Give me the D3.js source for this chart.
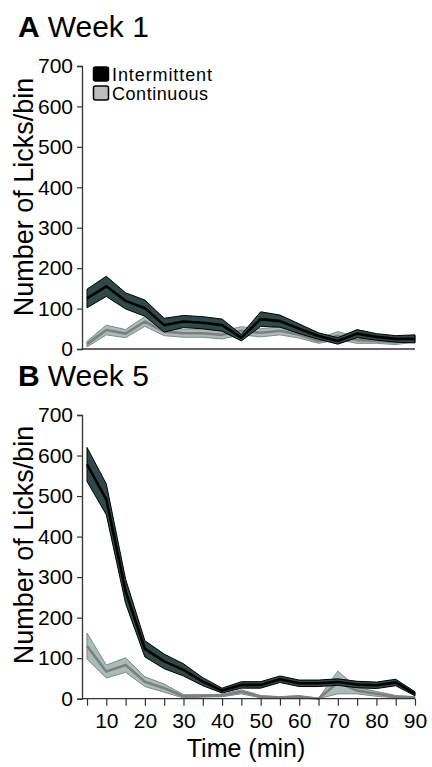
<!DOCTYPE html>
<html>
<head>
<meta charset="utf-8">
<script src="https://cdn.jsdelivr.net/npm/d3@7"></script>
<style>
  body { margin: 0; background: #fff; }
  text { font-family: 'Liberation Sans', Arial, sans-serif; fill: #000; }
</style>
</head>
<body>
<svg id="chart" width="432" height="767"></svg>
<script>
// time bins (min)
const times = [5, 10, 15, 20, 25, 30, 35, 40, 45, 50, 55, 60, 65, 70, 75, 80, 85, 90]
const yTicks = [0, 100, 200, 300, 400, 500, 600, 700]
const xTickLabels = [10, 20, 30, 40, 50, 60, 70, 80, 90]

// week 1, mean and sem
const w1IntMean = [125, 155, 119, 101, 59, 68, 65, 59, 28, 74, 69, 50, 32, 20, 38, 30, 25, 25]
const w1IntSem  = [23, 25, 20, 20, 17, 15, 15, 15, 8, 18, 15, 12, 8, 8, 10, 8, 8, 10]
const w1ConMean = [12, 47, 38, 68, 43, 39, 39, 35, 45, 40, 45, 35, 20, 33, 22, 20, 17, 25]
const w1ConSem  = [7, 12, 10, 12, 10, 10, 10, 10, 10, 10, 10, 8, 6, 10, 8, 6, 6, 8]

// week 5, mean and sem
const w5IntMean = [578, 492, 265, 123, 92, 71, 42, 20, 34, 34, 48, 38, 38, 41, 35, 33, 40, 12]
const w5IntSem  = [42, 38, 30, 20, 18, 15, 10, 6, 8, 8, 8, 8, 8, 8, 8, 8, 8, 5]
const w5ConMean = [130, 67, 83, 42, 26, 6, 7, 8, 17, 5, 3, 5, 0, 40, 20, 12, 5, 3]
const w5ConSem  = [32, 16, 18, 12, 10, 4, 3, 3, 5, 3, 2, 3, 1, 28, 8, 6, 3, 2]

const svg = d3.select("#chart")

const x = d3.scaleLinear().domain([3.7, 90]).range([82, 415])

const intStyle = { fill: "#2f4947", edge: "#000", line: "#000" }
const conStyle = { fill: "#a9bcb8", edge: "#7d8a88", line: "#7f7f7f" }

function drawPanel(letter, title, top, bottom, series, showTicks, labelY) {
    const y = d3.scaleLinear().domain([0, 700]).range([bottom, top])
    const g = svg.append("g")

    series.forEach(s => {
        const rows = times.map((t, i) => ({ t: t, m: s.mean[i], lo: Math.max(0, s.mean[i] - s.sem[i]), hi: s.mean[i] + s.sem[i] }))
        const area = d3.area().x(d => x(d.t)).y0(d => y(d.lo)).y1(d => y(d.hi))
        const line = d3.line().x(d => x(d.t)).y(d => y(d.m))
        g.append("path").attr("d", area(rows))
            .attr("fill", s.style.fill).attr("stroke", s.style.edge).attr("stroke-width", 1)
            .attr("stroke-linejoin", "round")
        g.append("path").attr("d", line(rows))
            .attr("fill", "none").attr("stroke", s.style.line).attr("stroke-width", 2.6)
            .attr("stroke-linejoin", "round")
    })

    // y axis
    const ya = g.append("g").attr("transform", "translate(82,0)")
        .call(d3.axisLeft(y).tickValues(yTicks).tickSize(5).tickPadding(4))
    ya.select(".domain").attr("stroke", "#333").attr("stroke-width", 1.3)
    ya.selectAll(".tick line").attr("stroke", "#333").attr("stroke-width", 1.2)
    ya.selectAll(".tick text").attr("font-size", 21).attr("font-family", "'Liberation Sans', Arial, sans-serif")

    // x axis
    if (showTicks) {
        const xa = g.append("g").attr("transform", "translate(0," + bottom + ")")
            .call(d3.axisBottom(x).tickValues(times).tickSize(7).tickPadding(7)
                .tickFormat(d => xTickLabels.includes(d) ? d : ""))
            .call(a => a.select(".domain").attr("d", "M82,0H415"))
        xa.select(".domain").attr("stroke", "#333").attr("stroke-width", 1.3)
        xa.selectAll(".tick line").attr("stroke", "#333").attr("stroke-width", 1.2)
        xa.selectAll(".tick text").attr("font-size", 21).attr("font-family", "'Liberation Sans', Arial, sans-serif")
    } else {
        g.append("line").attr("x1", 82).attr("x2", 415).attr("y1", bottom).attr("y2", bottom)
            .attr("stroke", "#333").attr("stroke-width", 1.3)
    }

    g.append("text").attr("transform", "translate(33," + labelY + ") rotate(-90)")
        .attr("text-anchor", "middle").attr("font-size", 27)
        .text("Number of Licks/bin")

    const t = g.append("text").attr("x", 18).attr("y", top - 29).attr("font-size", 30)
    t.append("tspan").attr("font-weight", "bold").text(letter)
    t.append("tspan").attr("dx", 8).text(title)
}

drawPanel("A", "Week 1", 66, 349, [
    { mean: w1ConMean, sem: w1ConSem, style: conStyle },
    { mean: w1IntMean, sem: w1IntSem, style: intStyle }
], false, 197)

drawPanel("B", "Week 5", 415, 698.7, [
    { mean: w5ConMean, sem: w5ConSem, style: conStyle },
    { mean: w5IntMean, sem: w5IntSem, style: intStyle }
], true, 545)

// legend
const legend = svg.append("g")
const legendItems = [
    { name: "Intermittent", fill: "#000", y: 67 },
    { name: "Continuous", fill: "#bdbdbd", y: 86 }
]
legendItems.forEach(d => {
    legend.append("rect").attr("x", 93.5).attr("y", d.y).attr("width", 15).attr("height", 14)
        .attr("rx", 2).attr("fill", d.fill).attr("stroke", "#000").attr("stroke-width", 1.5)
    legend.append("text").attr("x", 112).attr("y", d.y + 14).attr("font-size", 18)
        .attr("textLength", d.name === "Intermittent" ? 100 : 96).text(d.name)
})

svg.append("text").attr("x", 246).attr("y", 757).attr("text-anchor", "middle")
    .attr("font-size", 25).text("Time (min)")
</script>
</body>
</html>
